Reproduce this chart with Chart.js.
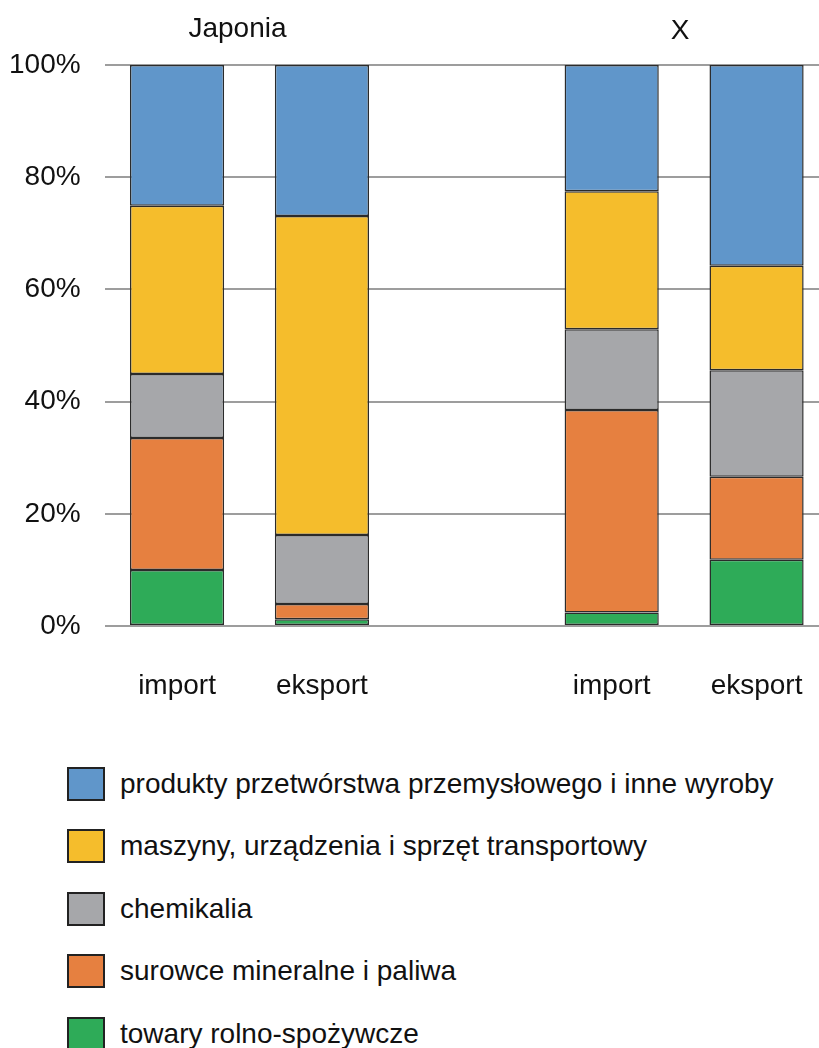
<!DOCTYPE html>
<html>
<head>
<meta charset="utf-8">
<script src="https://cdn.jsdelivr.net/npm/chart.js@4/dist/chart.umd.min.js"></script>
<style>
    html, body { margin: 0; padding: 0; background: #fff; overflow: hidden; }
    body { width: 819px; height: 1048px; position: relative; font-family: "Liberation Sans", Arial, sans-serif; }
    #wrap { position: absolute; left: 0; top: 0; width: 819px; height: 720px; overflow: hidden; }
    #chart { position: absolute; left: 0; top: 0; width: 829px; height: 720px; }
    .legend-item { position: absolute; left: 0; height: 34px; }
    .legend-box { position: absolute; left: 67px; top: 0; width: 34px; height: 30px; border: 2px solid #222; }
    .legend-text { position: absolute; left: 120px; top: 0; line-height: 34px; font-size: 28px; color: #111; white-space: nowrap; }
</style>
</head>
<body>
<div id="wrap"><canvas id="chart" width="829" height="720"></canvas></div>
<div id="legend"></div>
<script>
// categories (the empty middle one makes the gap between the two countries)
const categories = ['import', 'eksport', '', 'import', 'eksport'];
const groups = ['Japonia', 'X'];

// shares in %, bottom of stack first
const towary = [10.0, 1.2, null, 2.4, 11.8];
const surowce = [23.5, 2.7, null, 36.1, 14.8];
const chemikalia = [11.4, 12.3, null, 14.4, 19.0];
const maszyny = [30.0, 56.9, null, 24.6, 18.6];
const produkty = [25.1, 26.9, null, 22.5, 35.8];

const yTicks = [0, 20, 40, 60, 80, 100];

const seriesNames = [
    'produkty przetwórstwa przemysłowego i inne wyroby',
    'maszyny, urządzenia i sprzęt transportowy',
    'chemikalia',
    'surowce mineralne i paliwa',
    'towary rolno-spożywcze'
];
const seriesColors = ['#6096CA', '#F5BD2C', '#A6A7AA', '#E68040', '#2EAB58'];

const FONT = '"Liberation Sans", Arial, sans-serif';

// group titles above the bars
const groupTitles = {
    id: 'groupTitles',
    afterDraw(chart) {
        const ctx = chart.ctx;
        const x = chart.scales.x;
        ctx.save();
        ctx.font = '28px ' + FONT;
        ctx.fillStyle = '#111';
        ctx.textAlign = 'center';
        ctx.textBaseline = 'middle';
        ctx.fillText(groups[0], x.getPixelForValue(0.5) - 12, 29);
        ctx.fillText(groups[1], x.getPixelForValue(3.5) - 4, 31);
        ctx.restore();
    }
};

const seriesData = [produkty, maszyny, chemikalia, surowce, towary];
const datasets = [];
for (let i = seriesData.length - 1; i >= 0; i--) {
    datasets.push({
        label: seriesNames[i],
        data: seriesData[i],
        backgroundColor: seriesColors[i],
        borderColor: '#2b2b2b',
        borderWidth: 1.5,
        borderSkipped: false,
        barPercentage: 0.65,
        categoryPercentage: 1.0
    });
}

const ctx = document.getElementById('chart').getContext('2d');
new Chart(ctx, {
    type: 'bar',
    data: {
        labels: categories,
        datasets: datasets
    },
    options: {
        responsive: false,
        animation: false,
        devicePixelRatio: 1,
        layout: {
            padding: { top: 65, right: 0, bottom: 0, left: 0 }
        },
        plugins: {
            legend: { display: false },
            tooltip: { enabled: false }
        },
        scales: {
            x: {
                stacked: true,
                offset: true,
                grid: { display: false },
                border: { display: false },
                ticks: {
                    color: '#111',
                    font: { family: FONT, size: 28 },
                    padding: 35,
                    maxRotation: 0
                },
                afterFit(scale) {
                    scale.height = 94;
                    scale.paddingLeft = 0;
                    scale.paddingRight = 0;
                }
            },
            y: {
                stacked: true,
                min: 0,
                max: 100,
                afterBuildTicks(scale) {
                    scale.ticks = yTicks.map(v => ({ value: v }));
                },
                grid: {
                    color: '#9d9d9d',
                    lineWidth: 2,
                    drawTicks: false
                },
                border: { display: false },
                ticks: {
                    color: '#111',
                    font: { family: FONT, size: 28 },
                    padding: 24,
                    callback: function(value) {
                        return value + '%';
                    }
                },
                afterFit(scale) { scale.width = 104.6; }
            }
        }
    },
    plugins: [groupTitles]
});

// legend below the chart
const legendTops = [767, 829, 892, 954, 1017];
const legend = document.getElementById('legend');
seriesNames.forEach((name, i) => {
    const item = document.createElement('div');
    item.className = 'legend-item';
    item.style.top = legendTops[i] + 'px';
    item.innerHTML = '<div class="legend-box" style="background:' + seriesColors[i] + '"></div>' +
        '<div class="legend-text">' + name + '</div>';
    legend.appendChild(item);
});
</script>
</body>
</html>
